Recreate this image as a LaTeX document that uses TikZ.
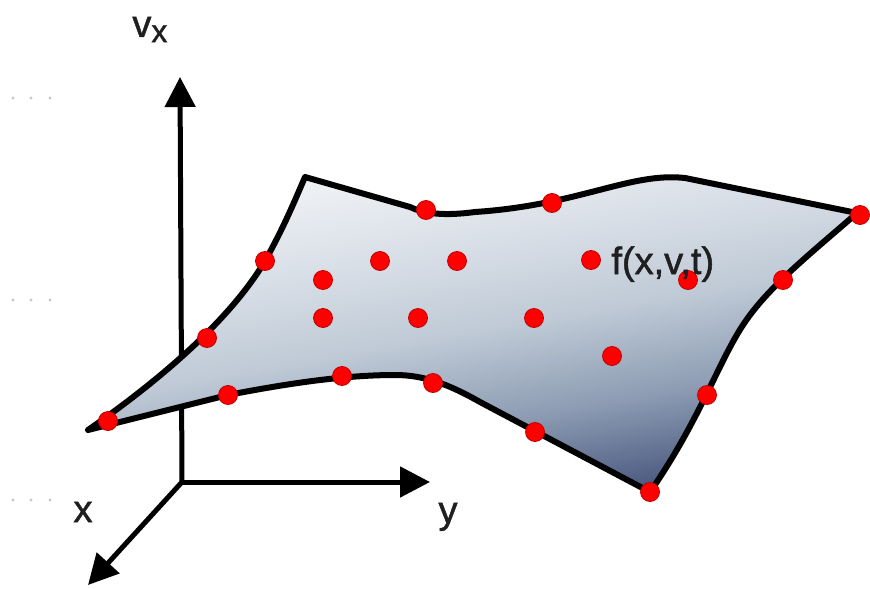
\documentclass[tikz,border=0pt]{standalone}
\usepackage{fontspec}
\setmainfont{Liberation Sans}
\newfontfamily\lblfont[FakeBold=1.3]{Liberation Sans}
\usetikzlibrary{arrows.meta}
\definecolor{surfa}{HTML}{F3F5F7}
\definecolor{surfb}{HTML}{DAE0E8}
\definecolor{surfc}{HTML}{BFCAD6}
\definecolor{surfd}{HTML}{8D9CB3}
\definecolor{surfe}{HTML}{44527A}
\definecolor{ptred}{HTML}{FF0000}
\pgfdeclareverticalshading{surfshade}{100bp}{color(0bp)=(surfe); color(25bp)=(surfe);
  color(38bp)=(surfd); color(50bp)=(surfc); color(62bp)=(surfb); color(75bp)=(surfa); color(100bp)=(surfa)}
\tikzset{
  axisline/.style={-{Triangle[length=15pt, width=15pt]}, line width=2.5pt, line cap=rect},
  surface/.style={draw=black, line width=3pt, line join=round,
    shade, shading=surfshade, shading angle=10},
  gridpt/.style={circle, fill=ptred, draw=red!75!black, line width=0.4pt,
    inner sep=0pt, minimum size=9.5pt},
  faintpt/.style={circle, fill=black!22, inner sep=0pt, minimum size=1.6pt},
  lbl/.style={inner sep=0pt, text=black!88, font=\lblfont\fontsize{19}{22}\selectfont}
}
\newcommand{\subx}{\raisebox{-2.6pt}{\fontsize{16}{18}\selectfont x}}

\begin{document}
\begin{tikzpicture}[x=0.5pt, y=-0.5pt]
  \useasboundingbox (0,0) rectangle (870,588);

  % faint marks on the left margin
  \foreach \r/\yy in {a/98, b/300, c/500}
    \foreach \c/\xx in {1/13, 2/31, 3/50}
      \node[faintpt] (m\r\c) at (\xx,\yy) {};

  % axes
  \coordinate (o) at (182,482);
  \coordinate (vtip) at (180,77);
  \coordinate (ytip) at (430,482);
  \coordinate (xtip) at (88,585);
  \draw[axisline] (o) -- (vtip);
  \draw[axisline] (o) -- (ytip);
  \draw[axisline] (o) -- (xtip);

  % the surface f(x,v,t)
  \path[surface] (88,430)
    .. controls (160,380) and (230,320) .. (265,261)
    .. controls (285,225) and (295,200) .. (305,177)
    -- (410,207)
    .. controls (425,214) and (445,216) .. (475,212)
    .. controls (580,205) and (630,172) .. (685,178)
    -- (857,213)
    .. controls (815,250) and (770,285) .. (745,322)
    .. controls (720,358) and (700,420) .. (650,492)
    -- (480,402)
    .. controls (450,385) and (425,375) .. (395,375)
    .. controls (340,375) and (280,385) .. (228,395)
    -- cycle;

  % points on the edge
  \foreach \xx/\yy [count=\i] in {108/421, 207/338, 265/261, 426/210, 552/203, 860/215,
      783/280, 707/395, 650/492, 535/432, 433/383, 342/376, 228/395}
    \node[gridpt] (e\i) at (\xx,\yy) {};
  % points inside
  \foreach \xx/\yy [count=\i] in {323/280, 380/261, 457/261, 591/260, 688/280,
      323/318, 418/318, 534/318, 612/356}
    \node[gridpt] (p\i) at (\xx,\yy) {};

  \node[lbl, anchor=base west] (flbl) at (611,274) {f(x,v,t)};
  \node[lbl, anchor=base west] (vlbl) at (132,37) {v\subx};
  \node[lbl, anchor=base] (xlbl) at (83,522) {x};
  \node[lbl, anchor=base] (ylbl) at (448,523) {y};
\end{tikzpicture}
\end{document}
